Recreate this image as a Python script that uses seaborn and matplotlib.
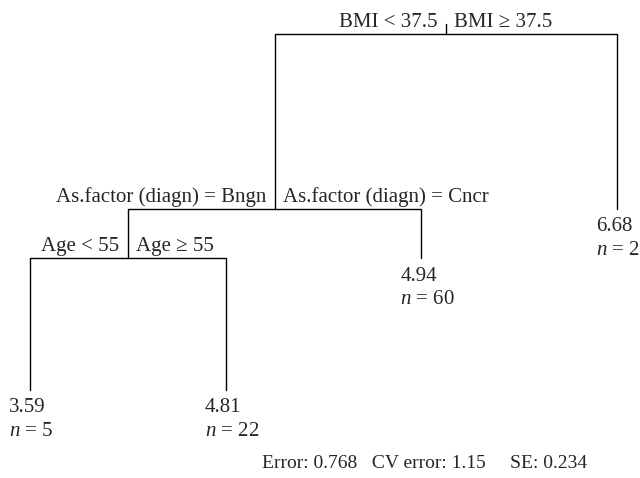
import numpy as np
import pandas as pd
import seaborn as sns
import matplotlib
matplotlib.use("Agg")
from matplotlib import pyplot as plt

# rpart style regression tree; node k has children 2k (left) and 2k+1 (right)
split_nodes = [1, 2, 4]
split_left = ["BMI < 37.5", "As.factor (diagn) = Bngn", "Age < 55"]
split_right = ["BMI \u2265 37.5", "As.factor (diagn) = Cncr", "Age \u2265 55"]
split_drop = [0.492, 0.138, 0.370]	# branch length as share of tree height

leaf_nodes = [8, 9, 5, 3]
leaf_mean = [3.59, 4.81, 4.94, 6.68]
leaf_n = [5, 22, 60, 2]

cv_summary = "Error: 0.768   CV error: 1.15     SE: 0.234"


sns.set_theme(style="white")
plt.rcParams['font.family'] = ['Liberation Serif', 'DejaVu Serif']
plt.rcParams['mathtext.fontset'] = 'custom'
plt.rcParams['mathtext.it'] = 'Liberation Serif:italic'
plt.rcParams['mathtext.rm'] = 'Liberation Serif'
fsize = 15


#	tree coordinates, same way rpart does it: leaves 1..n, parents in the middle
drop = dict(zip(split_nodes, split_drop))
xpos, ypos, order = {}, {1: 1.0}, []

def walk(k):
	if k in drop:
		for c in (2 * k, 2 * k + 1):
			ypos[c] = ypos[k] - drop[k]
			walk(c)
		xpos[k] = 0.5 * (xpos[2 * k] + xpos[2 * k + 1])
	else:
		order.append(k)
		xpos[k] = len(order)

walk(1)

stub = 0.028
rows = []
for k in xpos:
	if k == 1:
		rows += [(k, xpos[k], ypos[k]), (k, xpos[k], ypos[k] + stub)]
	else:
		p = k // 2
		rows += [(k, xpos[p], ypos[p]), (k, xpos[k], ypos[p]), (k, xpos[k], ypos[k])]
seg = pd.DataFrame(rows, columns=['node', 'x', 'y'])


fig = plt.figure(figsize=(6.4, 4.78), dpi=100)
ax = fig.add_axes([0, 0, 1, 1])
sns.lineplot(data=seg, x='x', y='y', units='node', estimator=None, sort=False,
			 color='black', linewidth=1.0, legend=False, ax=ax)

# pixel layout of the panel: first leaf at 30px, last at 617px, root at 34px, leaves at 390px
ppl = (617 - 30) / 3.0
ax.set_xlim(1 - 30 / ppl, 1 + (640 - 30) / ppl)
ax.set_ylim(1 - (478 - 34) / 356.0, 1 + 34 / 356.0)
ax.axis('off')

for k, l, r in zip(split_nodes, split_left, split_right):
	ax.annotate(l, (xpos[k], ypos[k]), xytext=(-6, 5), textcoords='offset points',
				ha='right', va='baseline', fontsize=fsize)
	ax.annotate(r, (xpos[k], ypos[k]), xytext=(6, 5), textcoords='offset points',
				ha='left', va='baseline', fontsize=fsize)

for k, m, n in zip(leaf_nodes, leaf_mean, leaf_n):
	t = ax.annotate("%.2f" % m, (xpos[k], ypos[k]), xytext=(-2, -6), textcoords='offset points',
					ha='center', va='top', fontsize=fsize)
	ax.annotate("$n$ = %d" % n, xy=(0, 0), xycoords=t, xytext=(0, -3), textcoords='offset points',
				ha='left', va='top', fontsize=fsize)

fig.text(425 / 640, 1 - 463 / 478, cv_summary, ha='center', va='center', fontsize=14)

plt.savefig('out.png', dpi=100)
